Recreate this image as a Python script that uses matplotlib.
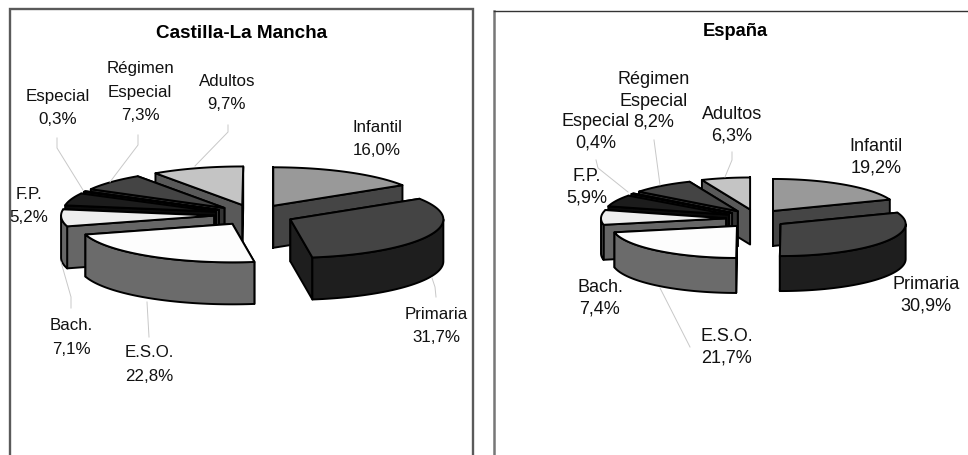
import numpy as np
import matplotlib
matplotlib.use('Agg')
import matplotlib.pyplot as plt
from matplotlib.patches import Polygon, Rectangle

categories = ["Infantil", "Primaria", "E.S.O.", "Bach.", "F.P.", "Especial", "Régimen\nEspecial", "Adultos"]
clm_values = [16.0, 31.7, 22.8, 7.1, 5.2, 0.3, 7.3, 9.7]
esp_values = [19.2, 30.9, 21.7, 7.4, 5.9, 0.4, 8.2, 6.3]

top_colors = ["#999999", "#444444", "#fdfdfd", "#eeeeee", "#1c1c1c", "#555555", "#444444", "#c4c4c4"]
side_colors = ["#454545", "#1e1e1e", "#6b6b6b", "#666666", "#0a0a0a", "#444444", "#333333", "#595959"]

plt.rcParams['font.family'] = ['Liberation Sans', 'DejaVu Sans']


def arc(cx, cy, rx, ry, a0, a1, n=60):
    # angles in degrees, clockwise from 12 o'clock
    t = np.radians(np.linspace(a0, a1, n))
    return np.column_stack([cx + rx * np.sin(t), cy - ry * np.cos(t)])


def draw_pie(ax, values, cx, cy, rx, ry, h, ex, ey):
    edges = np.concatenate([[0], np.cumsum(values)]) * 360 / 100
    slices = []
    for i in range(len(values)):
        a0, a1 = edges[i], edges[i + 1]
        mid = np.radians((a0 + a1) / 2)
        slices.append((cy - ey * np.cos(mid), cx + ex * np.sin(mid), a0, a1, i))

    # back slices first, the ones lowest on the page go on top
    for ay, ax_, a0, a1, i in sorted(slices):
        kw = dict(edgecolor="black", linewidth=1.4, joinstyle="round")
        top = arc(ax_, ay, rx, ry, a0, a1)
        # the cut wall that reaches further down the page is the visible one
        for p in sorted((top[0], top[-1]), key=lambda q: q[1]):
            wall = [(ax_, ay), p, (p[0], p[1] + h), (ax_, ay + h)]
            ax.add_patch(Polygon(wall, closed=True, facecolor=side_colors[i], **kw))
        lo, hi = max(a0, 90), min(a1, 270)
        if hi > lo:
            front = arc(ax_, ay, rx, ry, lo, hi)
            low = front[::-1] + [0, h]
            ax.add_patch(Polygon(np.vstack([front, low]), closed=True, facecolor=side_colors[i], **kw))
        ax.add_patch(Polygon(np.vstack([[ax_, ay], top]), closed=True, facecolor=top_colors[i], **kw))


def draw_labels(ax, values, positions, size, spacing, frame):
    for name, v, (x, y) in zip(categories, values, positions):
        label = name + "\n" + f"{v:.1f}".replace(".", ",") + "%"
        t = ax.text(x, y, label, ha="center", va="center", fontsize=size,
                    linespacing=spacing, color="#111111", zorder=6)
        t.set_clip_path(frame)


fig = plt.figure(figsize=(9.68, 4.55), dpi=100)
ax = fig.add_axes([0, 0, 1, 1])
ax.set_xlim(0, 968)
ax.set_ylim(455, 0)
ax.axis("off")

# panel frames
frame_l = Rectangle((10, 9), 463, 460, facecolor="white", edgecolor="#5a5a5a", linewidth=1.7, zorder=0)
frame_r = Rectangle((494, 11), 490, 460, facecolor="white", edgecolor="none", zorder=0)
ax.add_patch(frame_l)
ax.add_patch(frame_r)
ax.plot([494, 494], [11, 455], color="#777777", linewidth=1.8, zorder=1)
ax.plot([494, 968], [11, 11], color="#333333", linewidth=1.0, zorder=1)

draw_pie(ax, clm_values, 254, 215, 153, 38.5, 42, 40, 10.5)
draw_pie(ax, esp_values, 756, 218.7, 125, 32, 35, 30, 9.4)

ax.text(242, 33, "Castilla-La Mancha", ha="center", va="center", fontsize=13.6, fontweight="bold")
ax.text(735, 31, "España", ha="center", va="center", fontsize=13.2, fontweight="bold")

clm_label_pos = [(377, 139), (436, 326), (149, 364.5), (71, 337.5), (29, 206), (58, 108), (140, 92), (227, 93)]
esp_label_pos = [(876, 157), (926, 295), (727, 347), (600, 298), (587, 187), (596, 132), (654, 101), (732, 125)]
draw_labels(ax, clm_values, clm_label_pos, 12.2, 1.7, frame_l)
draw_labels(ax, esp_values, esp_label_pos, 13, 1.33, frame_r)

leaders = [
    [(228, 125), (228, 132), (195, 166)],
    [(138, 135), (138, 145), (110, 182)],
    [(57, 138), (57, 148), (83, 190)],
    [(71, 308), (71, 297), (61, 262)],
    [(149, 337), (147, 302)],
    [(436, 297), (435, 287), (432, 278)],
    [(732, 152), (732, 160), (725, 177)],
    [(654, 140), (660, 185)],
    [(596, 160), (598, 168), (628, 192)],
    [(690, 347), (660, 288)],
]
for line in leaders:
    xs, ys = zip(*line)
    ax.plot(xs, ys, color="#c8c8c8", linewidth=0.7, zorder=5)

fig.savefig("out.png", dpi=100)
